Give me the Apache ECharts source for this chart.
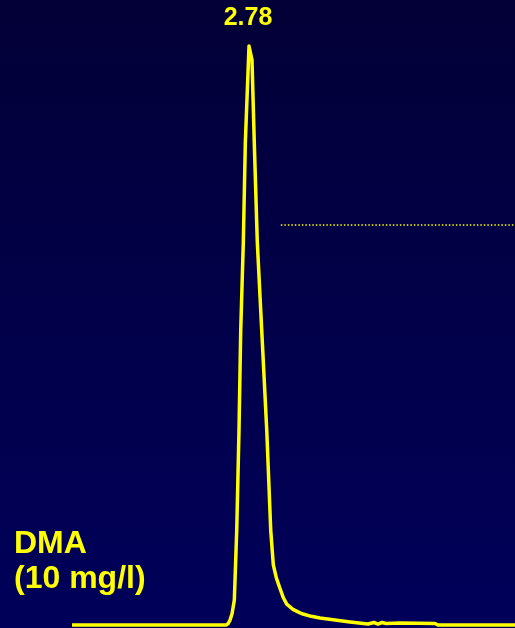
<!DOCTYPE html>
<html>
<head>
<meta charset="utf-8">
<script src="https://cdn.jsdelivr.net/npm/echarts@6/dist/echarts.min.js"></script>
<style>html,body{margin:0;padding:0;background:#020038;}#c{width:515px;height:628px;}</style>
</head>
<body>
<div id="c"></div>
<script>
// Retention time (min) and detector response (% of peak height)
var times = [0, 2.433, 2.465, 2.495, 2.528, 2.565, 2.603, 2.639, 2.666, 2.707, 2.739, 2.797, 2.844, 2.880, 2.928, 2.998, 3.077, 3.140, 3.181, 3.230, 3.287, 3.340, 3.393, 3.492, 3.603, 3.650, 3.780, 3.919, 4.156, 4.393, 4.677, 4.772, 4.835, 4.898, 4.962, 5.183, 5.736, 5.783, 7.0];
var response = [0, 0, 0.2, 0.8, 1.9, 4.3, 16.4, 33.7, 50.9, 66.1, 83.4, 100, 97.6, 83.4, 66.1, 50.9, 33.7, 16.4, 10.4, 8.1, 6.3, 4.7, 3.6, 2.7, 2.1, 1.9, 1.5, 1.2, 0.86, 0.52, 0.17, 0.43, 0.17, 0.43, 0.26, 0.35, 0.26, 0, 0];
var peakLabel = '2.78';
var refLineX = [3.30, 7.0];
var refLineY = 69.1;
var sampleLines = ['DMA', '(10 mg/l)'];

var chart = echarts.init(document.getElementById('c'));
var lineData = times.map(function (t, i) { return [t, response[i]]; });
var refData = refLineX.map(function (t) { return [t, refLineY]; });

chart.setOption({
  backgroundColor: new echarts.graphic.LinearGradient(0, 0, 0, 1, [
    { offset: 0, color: '#030037' },
    { offset: 1, color: '#00005a' }
  ]),
  animation: false,
  grid: { left: 72, right: 0, top: 46, bottom: 3 },
  xAxis: { type: 'value', min: 0, max: 7, show: false },
  yAxis: { type: 'value', min: 0, max: 100, show: false },
  series: [
    {
      type: 'line',
      data: lineData,
      showSymbol: false,
      clip: false,
      lineStyle: { color: '#ffff00', width: 3.5, join: 'round' }
    },
    {
      type: 'line',
      data: refData,
      showSymbol: false,
      clip: false,
      lineStyle: { color: '#ffff00', width: 1.5, type: [1.5, 2] }
    }
  ],
  graphic: [
    {
      type: 'text', x: 248, y: 18,
      style: { text: peakLabel, fill: '#ffff00', font: 'bold 25px "Liberation Sans", Arial, sans-serif', textAlign: 'center', textVerticalAlign: 'middle' }
    },
    {
      type: 'text', x: 14, y: 544,
      style: { text: sampleLines[0], fill: '#ffff00', font: 'bold 32px "Liberation Sans", Arial, sans-serif', textAlign: 'left', textVerticalAlign: 'middle' }
    },
    {
      type: 'text', x: 14, y: 579,
      style: { text: sampleLines[1], fill: '#ffff00', font: 'bold 32px "Liberation Sans", Arial, sans-serif', textAlign: 'left', textVerticalAlign: 'middle' }
    }
  ]
});
</script>
</body>
</html>
